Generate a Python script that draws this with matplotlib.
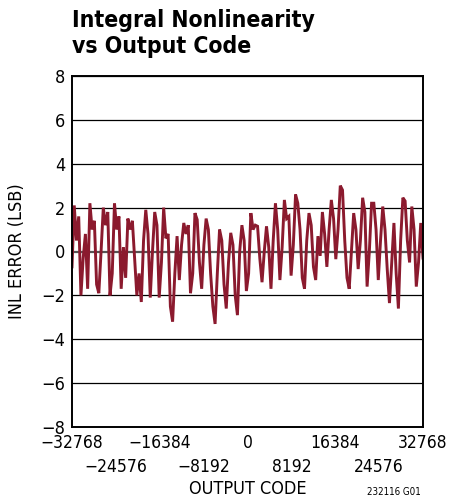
import numpy as np
import matplotlib
matplotlib.use("Agg")
import matplotlib.pyplot as plt

plt.rcParams['font.family'] = ['DejaVu Sans']
plt.rcParams['font.stretch'] = 'condensed'

# INL peaks / troughs, left to right (LSB)
inl_seg1 = [-0.7, 2.1, 0.5, 1.6, -2.0, -0.3, 0.8, -1.7, 2.2, 1.0, 1.4, -1.5, -1.9, 0.0,
            2.0, 1.2, 1.8, -2.0, -1.0, 2.2, 1.0, 1.6, -1.7, 0.2, -1.2, 1.5, 1.0, 1.4,
            -0.3, -2.0, -1.0, -2.3]
inl_seg2 = [0.5, 1.9, 0.8, -2.1, 0.0, 1.8, 1.2, -2.1, -0.5, 2.0, 0.6, 0.8, -2.5, -3.2,
            -1.0, 0.7, -1.3, 0.3, 1.3, 0.8, 1.2, -1.9, -1.0, 1.75]
inl_seg3 = [1.45, -0.5, -1.7, 0.3, 1.5, 1.0, -1.0, -2.5, -3.3, -1.0, 1.0, 0.5, -1.5,
            -2.6, -0.5, 0.85, 0.3, -2.0, -2.9, 0.0, 1.2, 0.5, -1.8, -1.0, 1.75, 1.0, 1.2]
inl_seg4 = [1.15, -0.3, -1.4, 0.0, 1.15, 0.2, -1.7, 0.5, 2.2, 1.0, -1.3, 0.2, 2.35, 1.5,
            1.6, -1.1, 0.3, 2.6, 2.2, 1.0, -1.2, -1.7, 0.5, 1.75, 1.2, -0.7]
inl_seg5 = [-1.3, 0.7, -0.2, 1.8, 0.8, -0.7, 1.0, 2.35, 1.5, -0.35, 1.0, 3.0, 2.8, 0.5,
            -1.2, -1.7, 0.0, 1.75, 1.0, -0.8, 0.5, 2.45, 1.8, -1.6, 0.0, 2.2]
inl_seg6 = [2.2, 1.0, -1.3, 0.5, 2.05, 1.0, -0.8, -2.35, -0.5, 1.3, -1.0, -2.6, 0.5,
            2.45, 2.3, 0.5, -0.5, 2.05, 1.0, -1.6, -0.5, 1.3, -0.3]

inl = np.array(inl_seg1 + inl_seg2 + inl_seg3 + inl_seg4 + inl_seg5 + inl_seg6)
code = np.linspace(-32768, 32767, len(inl))

xticks_top = [-32768, -16384, 0, 16384, 32768]
xticks_low = [-24576, -8192, 8192, 24576]
yticks = [-8, -6, -4, -2, 0, 2, 4, 6, 8]

def fmt(v):
    return str(v).replace('-', '\u2212')

fig = plt.figure(figsize=(4.5, 5.03), dpi=100)
ax = fig.add_axes([0.16, 0.151, 0.78, 0.698])

for y in yticks:
    if y == 0:
        ax.axhline(y, color='#555555', lw=1.6, zorder=1)
    else:
        ax.axhline(y, color='black', lw=0.9, zorder=1)

ax.plot(code, inl, color='#8b1a2e', lw=2.1, solid_joinstyle='miter', zorder=2)

ax.set_xlim(-32768, 32768)
ax.set_ylim(-8, 8)
ax.set_xticks(xticks_top)
ax.set_xticklabels([fmt(v) for v in xticks_top], fontsize=12.5)
ax.set_xticks(xticks_low, minor=True)
ax.set_xticklabels([fmt(v) for v in xticks_low], minor=True, fontsize=12.5)
ax.set_yticks(yticks)
ax.set_yticklabels([fmt(v) for v in yticks], fontsize=13)
ax.tick_params(which='both', length=0)
ax.tick_params(axis='x', which='major', pad=5)
ax.tick_params(axis='x', which='minor', pad=22)
ax.tick_params(axis='y', pad=5)
for s in ax.spines.values():
    s.set_linewidth(1.4)

ax.set_ylabel("INL ERROR (LSB)", fontsize=13, labelpad=11)
ax.set_xlabel("OUTPUT CODE", fontsize=13, labelpad=3)

fig.text(0.16, 0.982, "Integral Nonlinearity\nvs Output Code", fontsize=16.5,
         fontweight='bold', va='top', ha='left', linespacing=1.15)
fig.text(0.935, 0.012, "232116 G01", fontsize=7, ha='right', va='bottom')

fig.savefig("out.png", dpi=100)
